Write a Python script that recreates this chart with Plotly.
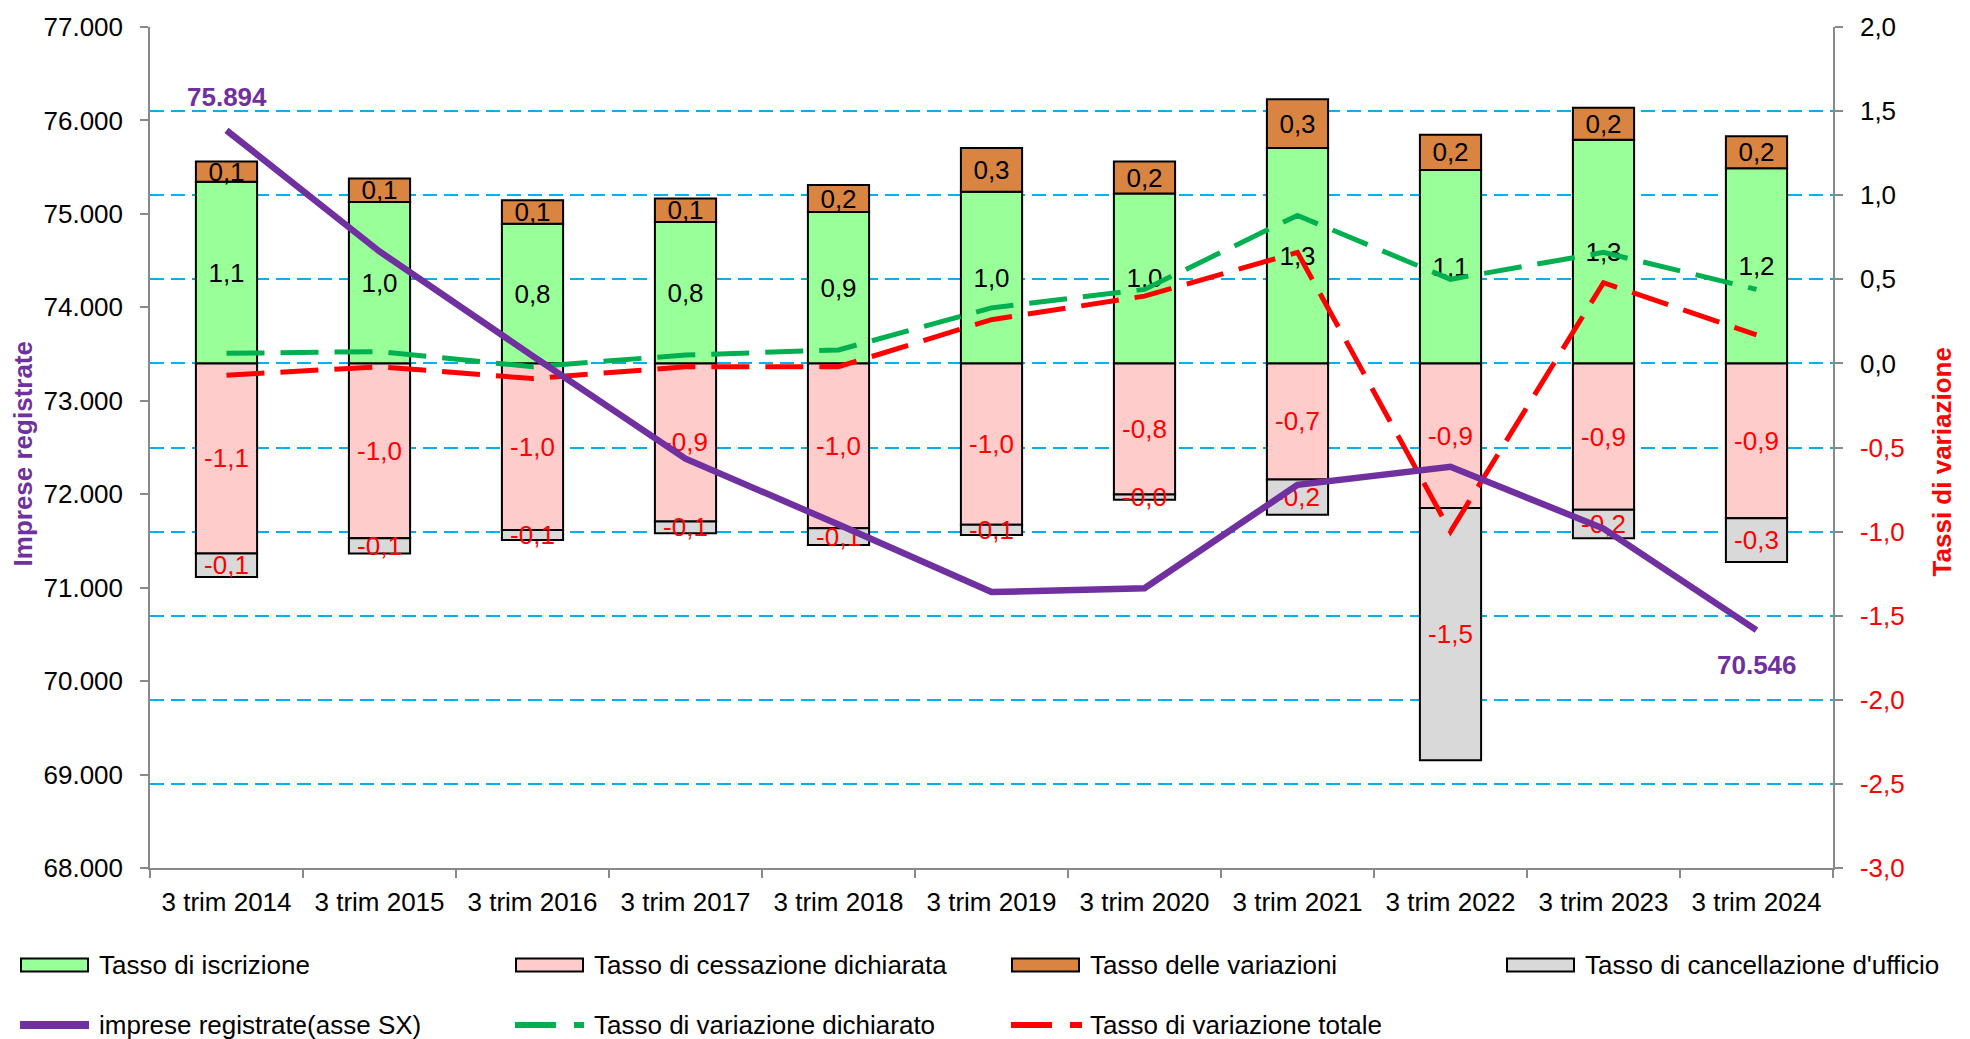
import plotly.graph_objects as go

# ---------------- data ----------------
categories = ["3 trim 2014", "3 trim 2015", "3 trim 2016", "3 trim 2017", "3 trim 2018",
              "3 trim 2019", "3 trim 2020", "3 trim 2021", "3 trim 2022", "3 trim 2023",
              "3 trim 2024"]
tasso_iscrizione = [1.08, 0.96, 0.83, 0.84, 0.90, 1.02, 1.01, 1.28, 1.15, 1.33, 1.16]
tasso_cessazione = [-1.13, -1.04, -0.99, -0.94, -0.98, -0.96, -0.78, -0.69, -0.86, -0.87, -0.92]
tasso_variazioni = [0.12, 0.14, 0.14, 0.14, 0.16, 0.26, 0.19, 0.29, 0.21, 0.19, 0.19]
tasso_cancellazione = [-0.14, -0.09, -0.06, -0.07, -0.10, -0.06, -0.03, -0.21, -1.50, -0.17, -0.26]
variazione_dichiarato = [0.06, 0.07, -0.02, 0.05, 0.08, 0.33, 0.44, 0.88, 0.50, 0.66, 0.44]
variazione_totale = [-0.07, -0.02, -0.09, -0.02, -0.02, 0.26, 0.40, 0.66, -1.00, 0.48, 0.17]
imprese = [75894, 74598, 73481, 72381, 71676, 70953, 70994, 72100, 72293, 71633, 70546]

rate_ticks = [-3.0, -2.5, -2.0, -1.5, -1.0, -0.5, 0.0, 0.5, 1.0, 1.5, 2.0]

# ---------------- style ----------------
FONT = "Liberation Sans, Arial, sans-serif"
FS = 26
C_GREEN = "#99FF99"
C_PINK = "#FFCCCC"
C_ORANGE = "#D98541"
C_GREY = "#D9D9D9"
C_PURPLE = "#7030A0"
C_DGREEN = "#00B050"
C_RED = "#FF0000"
C_AXIS = "#898989"
C_GRID = "#00B0F0"

W, H = 1970, 1039
ML, MR, MT, MB = 150, 137, 22, 171
PW, PH = W - ML - MR, H - MT - MB


def px2x(X):
    return (X - ML) / PW


def px2y(Y):
    return (H - MB - Y) / PH


def lab(v):
    return f"{v:.1f}".replace(".", ",")


fig = go.Figure()


def add_bar(vals, color, txtcolor, name):
    fig.add_trace(go.Bar(
        x=categories, y=vals, name=name, yaxis="y",
        marker=dict(color=color, line=dict(color="black", width=2)),
        text=[lab(v) for v in vals], textposition="inside", insidetextanchor="middle",
        constraintext="none", textangle=0,
        textfont=dict(family=FONT, size=FS, color=txtcolor),
        showlegend=False, hoverinfo="skip",
    ))


add_bar(tasso_iscrizione, C_GREEN, "black", "Tasso di iscrizione")
add_bar(tasso_cessazione, C_PINK, C_RED, "Tasso di cessazione dichiarata")
add_bar(tasso_variazioni, C_ORANGE, "black", "Tasso delle variazioni")
add_bar(tasso_cancellazione, C_GREY, C_RED, "Tasso di cancellazione d'ufficio")

fig.add_trace(go.Scatter(
    x=categories, y=variazione_dichiarato, mode="lines", yaxis="y",
    line=dict(color=C_DGREEN, width=5, dash="38px,16px"),
    showlegend=False, hoverinfo="skip", name="Tasso di variazione dichiarato"))
fig.add_trace(go.Scatter(
    x=categories, y=variazione_totale, mode="lines", yaxis="y",
    line=dict(color=C_RED, width=5, dash="38px,16px"),
    showlegend=False, hoverinfo="skip", name="Tasso di variazione totale"))
fig.add_trace(go.Scatter(
    x=categories, y=imprese, mode="lines", yaxis="y2",
    line=dict(color=C_PURPLE, width=6.5),
    showlegend=False, hoverinfo="skip", name="imprese registrate(asse SX)"))

# rate axis tick labels (negative in red)
rate_text = []
for v in rate_ticks:
    t = lab(v)
    if v < 0:
        t = f'<span style="color:{C_RED}">{t}</span>'
    rate_text.append(t)

annotations = []


def fmt_int(v):
    return f"{v:,}".replace(",", ".")


annotations.append(dict(x=categories[0], y=imprese[0], xref="x", yref="y2",
                        text=f"<b>{fmt_int(imprese[0])}</b>", showarrow=False,
                        yshift=33, font=dict(family=FONT, size=FS, color=C_PURPLE)))
annotations.append(dict(x=categories[-1], y=imprese[-1], xref="x", yref="y2",
                        text=f"<b>{fmt_int(imprese[-1])}</b>", showarrow=False,
                        yshift=-35, font=dict(family=FONT, size=FS, color=C_PURPLE)))

# axis titles
annotations.append(dict(x=px2x(23), y=px2y(452), xref="paper", yref="paper",
                        xanchor="center", yanchor="middle",
                        text="<b>Imprese registrate</b>", textangle=-90, showarrow=False,
                        font=dict(family=FONT, size=FS, color=C_PURPLE)))
annotations.append(dict(x=px2x(1942), y=px2y(460), xref="paper", yref="paper",
                        xanchor="center", yanchor="middle",
                        text="<b>Tassi di variazione</b>", textangle=-90, showarrow=False,
                        font=dict(family=FONT, size=FS, color=C_RED)))

# custom legend
shapes = []
row1_y, row2_y = 966, 1026
box_items = [
    (21, 97, C_GREEN, "Tasso di iscrizione"),
    (516, 592, C_PINK, "Tasso di cessazione dichiarata"),
    (1012, 1088, C_ORANGE, "Tasso delle variazioni"),
    (1507, 1583, C_GREY, "Tasso di cancellazione d'ufficio"),
]
for x0, xt, col, name in box_items:
    shapes.append(dict(type="rect", xref="paper", yref="paper",
                       x0=px2x(x0), x1=px2x(x0 + 67), y0=px2y(row1_y - 7), y1=px2y(row1_y + 6),
                       fillcolor=col, line=dict(color="black", width=2), layer="above"))
    annotations.append(dict(x=px2x(xt), y=px2y(row1_y), xref="paper", yref="paper",
                            text=name, showarrow=False, xanchor="left", yanchor="middle",
                            font=dict(family=FONT, size=FS, color="black")))

line_items = [
    (20, 89, 97, C_PURPLE, "solid", 8, "imprese registrate(asse SX)"),
    (515, 584, 592, C_DGREEN, "41px,18px", 6, "Tasso di variazione dichiarato"),
    (1011, 1082, 1088, C_RED, "41px,18px", 6, "Tasso di variazione totale"),
]
for x0, x1, xt, col, dash, w, name in line_items:
    shapes.append(dict(type="line", xref="paper", yref="paper",
                       x0=px2x(x0), x1=px2x(x1), y0=px2y(row2_y), y1=px2y(row2_y),
                       line=dict(color=col, width=w, dash=dash), layer="above"))
    annotations.append(dict(x=px2x(xt), y=px2y(row2_y), xref="paper", yref="paper",
                            text=name, showarrow=False, xanchor="left", yanchor="middle",
                            font=dict(family=FONT, size=FS, color="black")))

fig.update_layout(
    width=W, height=H,
    margin=dict(l=ML, r=MR, t=MT, b=MB, pad=0),
    plot_bgcolor="white", paper_bgcolor="white",
    barmode="relative", bargap=0.6,
    showlegend=False,
    separators=",.",
    font=dict(family=FONT, size=FS, color="black"),
    xaxis=dict(type="category", tickson="boundaries", ticks="outside", ticklen=8,
               tickcolor=C_AXIS, tickwidth=1.5, showline=True, linecolor=C_AXIS,
               linewidth=1.5, showgrid=False, tickfont=dict(family=FONT, size=FS, color="black"),
               ticklabelstandoff=10),
    yaxis=dict(side="right", range=[-3, 2], tickmode="array", tickvals=rate_ticks,
               ticktext=rate_text, ticks="outside", ticklen=8, tickcolor=C_AXIS, tickwidth=1.5,
               showline=True, linecolor=C_AXIS, linewidth=1.5,
               showgrid=True, gridcolor=C_GRID, gridwidth=2, griddash="14px,7px",
               zeroline=False, tickfont=dict(family=FONT, size=FS, color="black"),
               ticklabelstandoff=12),
    yaxis2=dict(overlaying="y", side="left", range=[68000, 77000], dtick=1000,
                tickformat=",.0f", ticks="outside", ticklen=8, tickcolor=C_AXIS, tickwidth=1.5,
                showline=True, linecolor=C_AXIS, linewidth=1.5, showgrid=False, zeroline=False,
                tickfont=dict(family=FONT, size=FS, color="black"), ticklabelstandoff=12),
    annotations=annotations,
    shapes=shapes,
)

fig.write_html("out.html",
               config={"displayModeBar": False},
               post_script="document.body.style.margin='0';document.body.style.overflow='hidden';")
